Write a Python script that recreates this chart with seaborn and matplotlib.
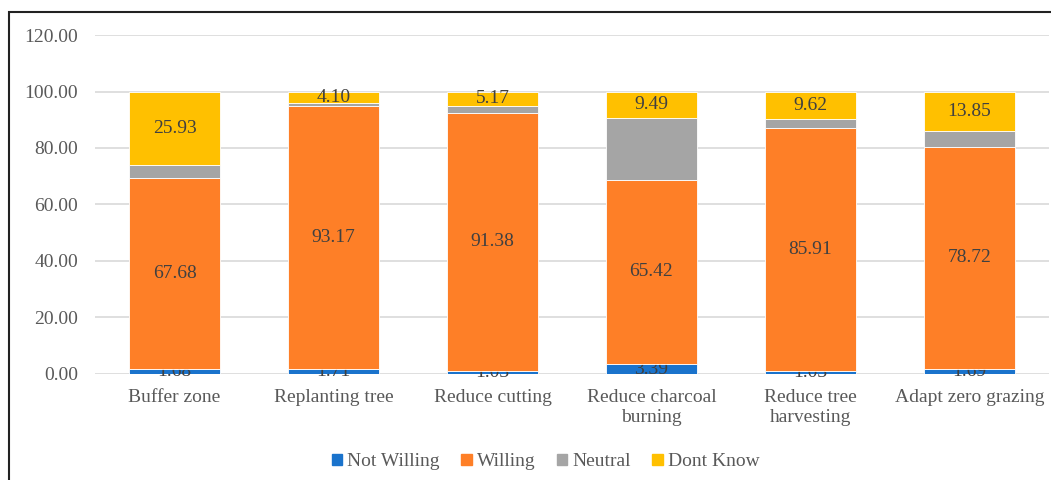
import numpy as np
import pandas as pd
import matplotlib
matplotlib.use("Agg")
import matplotlib.pyplot as plt
import matplotlib.patches as mpatches
import seaborn as sns

categories = ['Buffer zone', 'Replanting tree', 'Reduce cutting',
              'Reduce charcoal\nburning', 'Reduce tree\nharvesting', 'Adapt zero grazing']
not_willing = [1.68, 1.71, 1.03, 3.39, 1.03, 1.69]
willing = [67.68, 93.17, 91.38, 65.42, 85.91, 78.72]
neutral = [4.71, 1.02, 2.42, 21.70, 3.44, 5.74]
dont_know = [25.93, 4.10, 5.17, 9.49, 9.62, 13.85]

series_names = ['Not Willing', 'Willing', 'Neutral', 'Dont Know']
series_vals = [not_willing, willing, neutral, dont_know]
series_colors = ['#1a73cc', '#fe7f27', '#a5a5a5', '#ffc000']
label_series = ['Not Willing', 'Willing', 'Dont Know']

sns.set_style('white')
plt.rcParams['font.family'] = ['Liberation Serif', 'DejaVu Serif']

fig = plt.figure(figsize=(10.51, 4.80), dpi=100)
ax = fig.add_axes([0.0904, 0.221, 0.9076, 0.706])

# stacked bars, one seaborn call per series
bottom = np.zeros(len(categories))
for name, vals, col in zip(series_names, series_vals, series_colors):
    df = pd.DataFrame({'cat': categories, 'val': vals})
    sns.barplot(data=df, x='cat', y='val', color=col, bottom=bottom,
                width=0.57, edgecolor='white', linewidth=0.6,
                saturation=1, ax=ax, zorder=3)
    if name in label_series:
        ax.bar_label(ax.containers[-1], labels=[f'{v:.2f}' for v in vals],
                     label_type='center', fontsize=14, color='#404040')
    bottom = bottom + np.array(vals)

ax.set_xlim(-0.5, 5.5)
ax.set_ylim(0, 120)
ax.set_yticks(np.arange(0, 121, 20))
ax.set_yticklabels([f'{t:.2f}' for t in np.arange(0, 121, 20)])
ax.yaxis.grid(True, color='#d9d9d9', linewidth=1.2, zorder=0)
ax.set_axisbelow(True)
for s in ax.spines.values():
    s.set_visible(False)
ax.set_xlabel('')
ax.set_ylabel('')
ax.tick_params(axis='both', length=0, labelsize=14, labelcolor='#595959')
ax.tick_params(axis='y', pad=12)
ax.tick_params(axis='x', pad=11)

handles = [mpatches.Patch(color=c, label=n) for n, c in zip(series_names, series_colors)]
fig.legend(handles=handles, loc='center', bbox_to_anchor=(0.519, 0.0375), ncol=4,
           frameon=False, fontsize=14, handlelength=0.55, handleheight=0.55,
           handletextpad=0.25, columnspacing=1.1, labelcolor='#595959')

border = mpatches.Rectangle((0.0086, -0.2), 1.2, 0.2 + 0.975, transform=fig.transFigure,
                            fill=False, edgecolor='#222222', linewidth=1.5, clip_on=False)
fig.patches.append(border)

fig.savefig('out.png', dpi=100)
